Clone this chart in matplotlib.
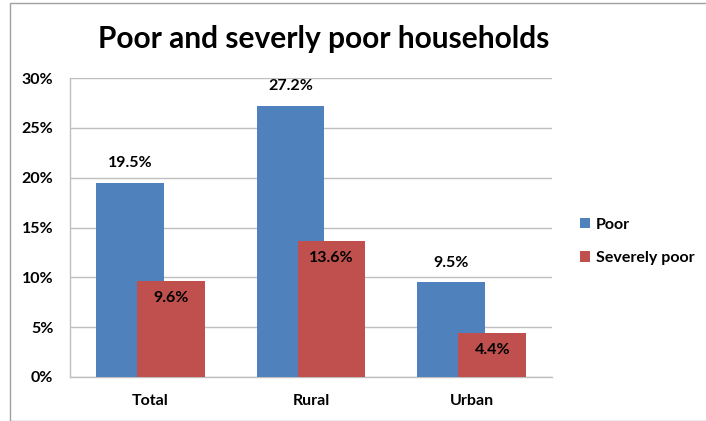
import matplotlib
matplotlib.use("Agg")
import matplotlib.pyplot as plt
from matplotlib.patches import Rectangle

categories = ["Total", "Rural", "Urban"]
poor = [19.5, 27.2, 9.5]
severely_poor = [9.6, 13.6, 4.4]
series_names = ["Poor", "Severely poor"]
yticks = [0, 5, 10, 15, 20, 25, 30]

plt.rcParams['font.family'] = ['Lato', 'DejaVu Sans']

blue = "#4F81BD"
red = "#C0504D"

fig = plt.figure(figsize=(7.06, 4.21), dpi=100)
ax = fig.add_axes([70/706, 1-377/421, 482/706, 299/421])

x = list(range(len(categories)))
w = 0.42
off = 0.128
b1 = ax.bar([i - off for i in x], poor, width=w, color=blue, label=series_names[0], zorder=3)
b2 = ax.bar([i + off for i in x], severely_poor, width=w, color=red, label=series_names[1], zorder=4)

for rect, v in zip(b1, poor):
    ax.annotate(f"{v:.1f}%", (rect.get_x() + rect.get_width()/2, v), xytext=(0, 9),
                textcoords="offset points", ha="center", va="bottom",
                fontsize=11.5, fontweight="bold", zorder=5)
for rect, v in zip(b2, severely_poor):
    ax.annotate(f"{v:.1f}%", (rect.get_x() + rect.get_width()/2, v), xytext=(0, -7),
                textcoords="offset points", ha="center", va="top",
                fontsize=11.5, fontweight="bold", zorder=5)

ax.set_xlim(-0.5, 2.5)
ax.set_ylim(0, 30)
ax.set_yticks(yticks)
ax.set_yticklabels([f"{t}%" for t in yticks], fontsize=11.5, fontweight="bold")
ax.set_xticks(x)
ax.set_xticklabels(categories, fontsize=11.5, fontweight="bold")
ax.tick_params(axis='x', length=0, pad=12)
ax.tick_params(axis='y', length=0, pad=12)
ax.grid(axis='y', color="#BFBFBF", linewidth=1, zorder=0)
for s in ["top", "right"]:
    ax.spines[s].set_visible(False)
for s in ["left", "bottom"]:
    ax.spines[s].set_color("#BFBFBF")
    ax.spines[s].set_linewidth(1)

fig.text(324/706, 1-39/421, "Poor and severly poor households", ha="center", va="center",
         fontsize=21.5, fontweight="bold")

leg = fig.legend(handles=[b1, b2], labels=series_names, loc="upper left",
                 bbox_to_anchor=(580/706, 1-218/421), frameon=False, borderpad=0,
                 borderaxespad=0,
                 prop={'size': 11.5, 'weight': 'bold'}, handlelength=0.6, handleheight=0.6,
                 labelspacing=1.2, handletextpad=0.4)

fig.patches.append(Rectangle((10/706, 0), 1, 1-3/421, transform=fig.transFigure,
                             fill=False, edgecolor="#A0A0A0", linewidth=1))

fig.savefig("out.png", dpi=100)
